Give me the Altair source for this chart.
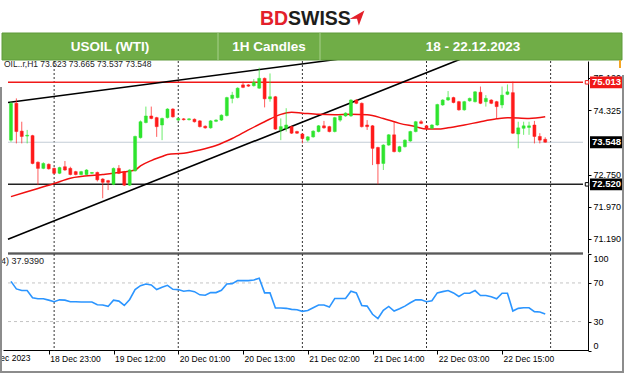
import altair as alt
import pandas as pd

# ---------------- data ----------------
opens = [73.60, 74.50, 73.82, 73.70, 73.71, 73.06, 72.91, 73.01, 72.91, 72.79,
         72.95, 72.91, 72.83, 72.76, 72.76, 72.79, 72.81, 72.65, 72.61, 72.52,
         72.91, 72.83, 72.50, 72.85, 73.66, 74.03, 74.19, 74.15, 73.97, 74.15,
         74.36, 74.09, 74.12, 74.10, 74.11, 74.07, 73.94, 73.90, 74.06, 74.09,
         74.20, 74.62, 74.64, 74.95, 74.95, 74.93, 74.87, 75.11, 74.61, 74.66,
         73.85, 73.89, 73.93, 73.81, 73.75, 73.60, 73.68, 73.81, 73.95, 73.93,
         73.81, 74.09, 74.19, 74.19, 74.58, 74.50, 73.97, 73.95, 73.42, 73.03,
         73.48, 73.73, 73.32, 73.44, 73.58, 73.81, 74.05, 73.95, 73.89, 73.97,
         74.46, 74.58, 74.64, 74.54, 74.34, 74.56, 74.54, 74.77, 74.54, 74.58,
         74.54, 74.46, 74.72, 74.76, 73.75, 73.89, 73.91, 73.97, 73.69, 73.62]
highs = [74.54, 74.62, 74.05, 73.85, 73.73, 73.08, 73.06, 73.03, 72.93, 72.95,
         73.09, 72.95, 72.85, 72.85, 72.89, 72.82, 72.83, 72.67, 72.63, 72.93,
         72.99, 72.85, 72.89, 73.71, 74.08, 74.42, 74.42, 74.17, 74.15, 74.38,
         74.38, 74.15, 74.14, 74.14, 74.13, 74.09, 73.96, 74.09, 74.11, 74.23,
         74.66, 74.78, 74.89, 75.03, 74.97, 75.09, 75.37, 75.13, 75.23, 74.68,
         74.13, 74.38, 73.95, 73.83, 73.77, 73.70, 73.84, 73.97, 74.07, 73.95,
         74.17, 74.21, 74.28, 74.60, 74.60, 74.52, 74.09, 73.97, 73.44, 73.50,
         73.75, 74.05, 73.46, 73.62, 73.83, 74.07, 74.09, 73.97, 73.99, 74.49,
         74.60, 74.80, 74.66, 74.56, 74.56, 74.64, 74.80, 74.91, 74.70, 74.60,
         74.56, 74.91, 74.96, 75.03, 74.05, 74.05, 74.05, 74.07, 73.77, 73.67]
lows = [73.56, 73.52, 73.52, 73.52, 73.01, 72.50, 72.89, 72.88, 72.77, 72.77,
        72.85, 72.74, 72.74, 72.74, 72.74, 72.77, 72.59, 72.18, 72.38, 72.50,
        72.77, 72.48, 72.48, 72.83, 73.64, 74.01, 74.11, 73.68, 73.60, 74.13,
        74.15, 74.07, 74.08, 74.08, 74.03, 73.91, 73.88, 73.88, 74.04, 74.07,
        74.18, 74.50, 74.62, 74.87, 74.90, 74.91, 74.85, 74.40, 74.54, 73.85,
        73.60, 73.81, 73.75, 73.75, 73.52, 73.56, 73.66, 73.79, 73.88, 73.79,
        73.79, 74.05, 74.17, 74.17, 74.48, 73.91, 73.85, 72.99, 72.52, 72.87,
        73.46, 73.30, 73.30, 73.42, 73.56, 73.79, 73.99, 73.87, 73.87, 73.95,
        74.44, 74.56, 74.50, 74.32, 74.32, 74.54, 74.52, 74.48, 74.42, 74.48,
        74.13, 74.38, 74.70, 73.75, 73.40, 73.73, 73.73, 73.52, 73.52, 73.54]
closes = [74.50, 73.81, 73.69, 73.72, 73.03, 72.91, 73.03, 72.90, 72.79, 72.93,
          72.87, 72.76, 72.76, 72.83, 72.87, 72.81, 72.63, 72.57, 72.57, 72.91,
          72.79, 72.50, 72.87, 73.69, 74.05, 74.19, 74.13, 73.93, 74.13, 74.36,
          74.17, 74.13, 74.10, 74.12, 74.05, 73.93, 73.90, 74.07, 74.09, 74.21,
          74.64, 74.70, 74.87, 74.89, 74.92, 75.01, 75.11, 74.61, 74.66, 73.87,
          73.93, 73.97, 73.77, 73.77, 73.64, 73.68, 73.82, 73.95, 73.90, 73.81,
          74.15, 74.19, 74.26, 74.58, 74.50, 73.93, 73.93, 73.40, 73.02, 73.48,
          73.73, 73.32, 73.44, 73.60, 73.81, 74.05, 74.01, 73.89, 73.97, 74.47,
          74.58, 74.64, 74.52, 74.34, 74.54, 74.62, 74.78, 74.50, 74.62, 74.50,
          74.42, 74.70, 74.78, 73.77, 73.90, 73.95, 73.95, 73.69, 73.60, 73.55]
rsi_values = [71.6, 63.8, 62.1, 62.1, 54.6, 53.6, 53.6, 52.2, 50.5, 52.5,
              52.2, 50.5, 50.5, 50.2, 50.2, 50.2, 47.4, 47.1, 45.7, 52.2,
              51.2, 46.7, 52.9, 63.1, 67.2, 68.9, 67.9, 63.1, 65.5, 67.5,
              63.4, 63.1, 61.4, 62.1, 61.0, 57.7, 57.3, 60.0, 60.0, 62.4,
              68.9, 69.3, 72.4, 72.4, 72.4, 73.1, 74.8, 59.7, 59.7, 44.0,
              44.0, 43.7, 42.6, 42.3, 40.6, 41.5, 44.3, 47.1, 47.1, 45.0,
              53.9, 53.9, 53.9, 61.4, 59.7, 46.7, 46.0, 37.5, 33.1, 41.6,
              45.7, 40.9, 43.3, 46.0, 49.5, 52.5, 52.5, 50.5, 51.5, 59.7,
              61.0, 62.1, 59.7, 56.0, 59.4, 59.4, 62.1, 57.0, 57.0, 55.6,
              53.6, 59.4, 59.4, 40.9, 43.7, 44.3, 44.3, 40.3, 39.9, 37.9]
ma_bars = [0, 5, 8, 11, 17, 20, 23, 24, 26, 28, 29, 32, 35, 38, 41, 44, 47, 50,
           52, 54, 57, 60, 63, 66, 69, 72, 75, 77, 79, 81, 84, 87, 90, 92, 96, 99]
ma_values = [72.22, 72.42, 72.54, 72.67, 72.76, 72.81, 72.87, 72.97, 73.10, 73.20,
             73.25, 73.28, 73.36, 73.47, 73.64, 73.85, 74.05, 74.23, 74.28, 74.26,
             74.23, 74.22, 74.23, 74.22, 74.13, 74.01, 73.93, 73.87, 73.87, 73.90,
             73.97, 74.05, 74.12, 74.15, 74.13, 74.17]
time_tick_bars = [7, 19, 31, 43, 55, 67, 79, 91]
time_tick_labels = ["18 Dec 23:00", "19 Dec 12:00", "20 Dec 01:00", "20 Dec 13:00",
                    "21 Dec 02:00", "21 Dec 14:00", "22 Dec 03:00", "22 Dec 15:00"]
first_date_bar = [-5.3]
first_date_label = ["18 Dec 2023"]
grid_bars = [8, 31, 54, 77, 100]
price_ticks = [71.19, 71.97, 72.75, 74.325, 75.12]
rsi_ticks = [0, 30, 70, 100]
rsi_levels = [30, 70]
level_names = ["resistance", "support", "last"]
level_values = [75.013, 72.520, 73.548]
level_colors = ["#f01818", "#000000", "#000000"]
upper_tl_bars = [-0.55, 62.0]
upper_tl_values = [74.52, 75.60]
lower_tl_bars = [-0.55, 85.0]
lower_tl_values = [71.18, 75.67]

# ---------------- scales / axes ----------------
GREEN = "#2ee42e"
RED = "#ff1a1a"
XD = [-0.55, 106.0]
PD = [70.842, 75.534]
XS = alt.Scale(domain=XD, range=[3, 588], nice=False, zero=False)
PS = alt.Scale(domain=PD, range=[253, 61], nice=False, zero=False)
RS = alt.Scale(domain=[0, 100], range=[350.5, 254], nice=False, zero=False)

label_expr = "{}[indexof({}, datum.value)]".format(
    "[" + ",".join("'%s'" % s for s in time_tick_labels) + "]",
    "[" + ",".join(str(v) for v in time_tick_bars) + "]")
XA = alt.Axis(orient="bottom", offset=-26, values=time_tick_bars, labelExpr=label_expr,
              grid=False, tickSize=4, tickColor="black", domainColor="black",
              labelAlign="left", labelOffset=1, labelPadding=0, labelBaseline="top",
              labelFont="Liberation Sans", labelFontSize=8.5, labelColor="black",
              labelFlush=False, labelOverlap=False, title=None)
PA = alt.Axis(orient="right", offset=-36, values=price_ticks, format=".3f", grid=False,
              tickSize=3, tickColor="black", domainColor="black", labelPadding=2,
              labelFont="Liberation Sans", labelFontSize=9, labelColor="black",
              labelFlush=False, labelOverlap=False, title=None)
RA = alt.Axis(orient="right", offset=-36, values=rsi_ticks, format="d", grid=False,
              tickSize=3, tickColor="black", domainColor="black", labelPadding=2,
              labelFont="Liberation Sans", labelFontSize=9, labelColor="black",
              labelFlush=True, labelOverlap=False, title=None)


def X(f):
    return alt.X(f, scale=XS, axis=XA)


def PY(f):
    return alt.Y(f, scale=PS, axis=PA)


def RY(f):
    return alt.Y(f, scale=RS, axis=RA)


candles = pd.DataFrame({"bar": list(range(len(opens))), "open": opens, "high": highs,
                        "low": lows, "close": closes})
candles["dir"] = ["up" if c >= o else "down" for o, c in zip(opens, closes)]
rsi_df = pd.DataFrame({"bar": list(range(len(rsi_values))), "rsi": rsi_values})
ma_df = pd.DataFrame({"bar": ma_bars, "ma": ma_values})
grid_df = pd.DataFrame({"bar": grid_bars, "ptop": PD[1], "pbot": PD[0], "rtop": 100, "rbot": 0})
lev_df = pd.DataFrame({"name": level_names, "p": level_values, "x0": XD[0], "x1": XD[1]})
lev_df["lo"] = lev_df["p"] - 0.145
lev_df["hi"] = lev_df["p"] + 0.145
lev_df["txt"] = ["%.3f" % v for v in level_values]
rlev_df = pd.DataFrame({"r": rsi_levels, "x0": XD[0], "x1": XD[1]})
tl_df = pd.DataFrame({"bar": upper_tl_bars + lower_tl_bars,
                      "v": upper_tl_values + lower_tl_values,
                      "line": ["upper", "upper", "lower", "lower"]})
border_df = pd.DataFrame({"x0": [XD[0]], "x1": [XD[1]], "p": [PD[0]], "r": [100]})
first_df = pd.DataFrame({"bar": first_date_bar, "label": first_date_label})
one = pd.DataFrame({"k": [0]})

color_enc = alt.Color("dir:N", scale=alt.Scale(domain=["up", "down"], range=[GREEN, RED]), legend=None)
stroke_enc = alt.Stroke("dir:N", scale=alt.Scale(domain=["up", "down"], range=[GREEN, RED]), legend=None)

# ---------------- price panel ----------------
p_grid = alt.Chart(grid_df).mark_rule(color="#333333", strokeDash=[2, 2], strokeWidth=1).encode(
    x=X("bar:Q"), y=PY("ptop:Q"), y2="pbot:Q")
p_border = alt.Chart(border_df).mark_rule(color="#222222", strokeWidth=1.2).encode(
    x=X("x0:Q"), x2="x1:Q", y=PY("p:Q"))
p_last = alt.Chart(lev_df[lev_df.name == "last"]).mark_rule(color="#c3ccd6", strokeWidth=1.2).encode(
    x=X("x0:Q"), x2="x1:Q", y=PY("p:Q"))
p_res = alt.Chart(lev_df[lev_df.name == "resistance"]).mark_rule(color="#f01818", strokeWidth=1.5).encode(
    x=X("x0:Q"), x2="x1:Q", y=PY("p:Q"))
p_sup = alt.Chart(lev_df[lev_df.name == "support"]).mark_rule(color="#222222", strokeWidth=1.5).encode(
    x=X("x0:Q"), x2="x1:Q", y=PY("p:Q"))
p_tl = alt.Chart(tl_df).mark_line(color="black", strokeWidth=1.6, clip=True).encode(
    x=X("bar:Q"), y=PY("v:Q"), detail="line:N")
p_ma = alt.Chart(ma_df).mark_line(color="#f01010", strokeWidth=1.5, interpolate="monotone").encode(
    x=X("bar:Q"), y=PY("ma:Q"))
p_wick = alt.Chart(candles).mark_rule(strokeWidth=1, opacity=0.7).encode(
    x=X("bar:Q"), y=PY("low:Q"), y2="high:Q", color=color_enc)
p_body = alt.Chart(candles).mark_bar(size=3.0, strokeWidth=0.5, orient="vertical").encode(
    x=X("bar:Q"), y=PY("open:Q"), y2="close:Q", color=color_enc, stroke=stroke_enc)

box_layers = []
for nm, col in zip(level_names, level_colors):
    d = lev_df[lev_df.name == nm]
    box_layers.append(alt.Chart(d).mark_rect(color=col).encode(
        x=alt.value(590), x2=alt.value(624), y=PY("lo:Q"), y2="hi:Q"))
    if nm != "last":
        box_layers.append(alt.Chart(d).mark_point(shape="square", filled=True, fill="white",
                                                  stroke=col, size=12, strokeWidth=1, opacity=1).encode(
            x=alt.value(587), y=PY("p:Q")))
p_boxtxt = alt.Chart(lev_df).mark_text(align="left", baseline="middle", color="white",
                                       font="Liberation Sans", fontSize=9.5, fontWeight="bold").encode(
    x=alt.value(592), y=PY("p:Q"), text="txt:N")
p_head = alt.Chart(one).mark_text(text="OIL..r,H1  73.623 73.665 73.537 73.548", align="left",
                                  baseline="middle", font="Liberation Sans", fontSize=8.5,
                                  color="#222222").encode(x=alt.value(4), y=alt.value(64))

price = alt.layer(p_grid, p_border, p_last, p_res, p_sup, p_tl, p_ma, p_wick, p_body,
                  *box_layers, p_boxtxt, p_head)

# ---------------- RSI panel ----------------
r_grid = alt.Chart(grid_df).mark_rule(color="#333333", strokeDash=[2, 2], strokeWidth=1).encode(
    x=X("bar:Q"), y=RY("rtop:Q"), y2="rbot:Q")
r_lev = alt.Chart(rlev_df).mark_rule(color="#c4c4c4", strokeDash=[3, 3], strokeWidth=1).encode(
    x=X("x0:Q"), x2="x1:Q", y=RY("r:Q"))
r_border = alt.Chart(border_df).mark_rule(color="#222222", strokeWidth=1.2).encode(
    x=X("x0:Q"), x2="x1:Q", y=RY("r:Q"))
r_line = alt.Chart(rsi_df).mark_line(color="#2b95ff", strokeWidth=1.6).encode(
    x=X("bar:Q"), y=RY("rsi:Q"))
r_txt = alt.Chart(one).mark_text(text="4) 37.9390", align="left", baseline="middle",
                                 font="Liberation Sans", fontSize=9, color="#222222").encode(
    x=alt.value(1), y=alt.value(261))
rsi = alt.layer(r_grid, r_lev, r_border, r_line, r_txt)

# ---------------- decorations ----------------
first_lab = alt.Chart(first_df).mark_text(align="left", baseline="top", font="Liberation Sans",
                                          fontSize=8.5, color="black").encode(
    x=X("bar:Q"), y=alt.value(354), text="label:N")


def rect(x1, x2, y1, y2, color, **kw):
    return alt.Chart(one).mark_rect(color=color, **kw).encode(
        x=alt.value(x1), x2=alt.value(x2), y=alt.value(y1), y2=alt.value(y2))


def vline(x, y1, y2, color, w):
    return alt.Chart(one).mark_rule(color=color, strokeWidth=w).encode(
        x=alt.value(x), y=alt.value(y1), y2=alt.value(y2))


def txt(t, x, y, size, color, align="center", weight="bold", baseline="middle"):
    return alt.Chart(one).mark_text(text=t, align=align, baseline=baseline, fontSize=size,
                                    font="Liberation Sans", fontWeight=weight, color=color).encode(
        x=alt.value(x), y=alt.value(y))


green_bar = rect(2, 622, 33, 60, "#70ad47", stroke="#5f9a3b", strokeWidth=1)
sep1 = vline(218, 33, 60, "#a8d08d", 1)
sep2 = vline(320, 33, 60, "#a8d08d", 1)
t1 = txt("USOIL (WTI)", 110, 47, 13.5, "white")
t2 = txt("1H Candles", 269, 47, 13.5, "white")
t3 = txt("18 - 22.12.2023", 473, 47, 13.5, "white")
logo1 = txt("BD", 260, 25, 19.5, "#e3202a", align="left", baseline="alphabetic")
logo2 = txt("SWISS", 288, 25, 19.5, "#1d1d1b", align="left", baseline="alphabetic")
logo3 = alt.Chart(one).mark_point(shape="M -1 0.15 L 1 -1 L 0.25 1 L 0 0.1 Z", filled=True,
                                  color="#e3202a", size=220, opacity=1).encode(
    x=alt.value(357), y=alt.value(18))
left_b = vline(1, 87, 372, "#8c8c8c", 2)
right_b = vline(623, 75, 372, "#8c8c8c", 2)
orange = vline(620, 60, 68, "#f5a623", 2)
bottom_b = alt.Chart(one).mark_rule(color="#8c8c8c", strokeWidth=2).encode(
    x=alt.value(0), x2=alt.value(624), y=alt.value(372))

deco = alt.layer(first_lab, green_bar, sep1, sep2, t1, t2, t3, logo1, logo2, logo3,
                 left_b, right_b, orange, bottom_b)

chart = alt.layer(price, rsi, deco).resolve_scale(y="independent").properties(
    width=624, height=376, padding=0, background="white",
    autosize=alt.AutoSizeParams(type="none")
).configure_view(stroke=None)

chart.save("out.html", embed_options={"renderer": "svg", "actions": False})
